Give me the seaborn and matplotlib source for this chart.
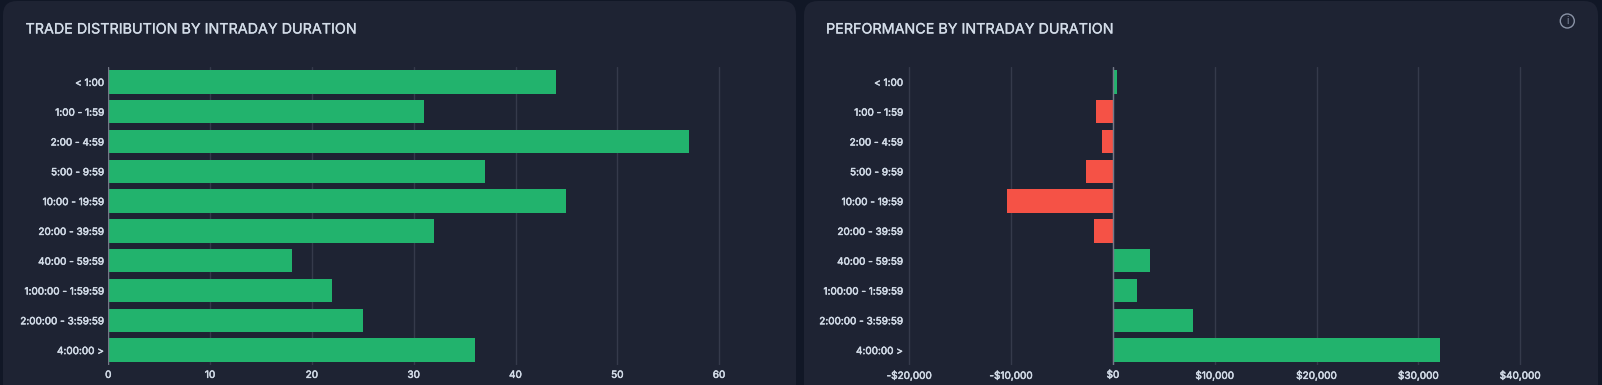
import matplotlib
matplotlib.use("Agg")
import matplotlib.pyplot as plt
import matplotlib.patheffects as pe
from matplotlib.patches import FancyBboxPatch, Circle
from matplotlib.transforms import Affine2D
import seaborn as sns
import pandas as pd

# chart data
durations = ["< 1:00", "1:00 - 1:59", "2:00 - 4:59", "5:00 - 9:59", "10:00 - 19:59",
             "20:00 - 39:59", "40:00 - 59:59", "1:00:00 - 1:59:59", "2:00:00 - 3:59:59", "4:00:00 >"]
trade_counts = [44, 31, 57, 37, 45, 32, 18, 22, 25, 36]
performance = [400, -1700, -1050, -2650, -10450, -1900, 3600, 2400, 7900, 32150]
count_ticks = [0, 10, 20, 30, 40, 50, 60]
perf_ticks = [-20000, -10000, 0, 10000, 20000, 30000, 40000]

W, H = 1602, 385
PAGE = "#111726"
CARD = "#1e2333"
GREEN = "#22b36d"
RED = "#f55246"
GRID = "#353a4b"
AXIS = "#737887"
TEXT = "#d3dce8"

sns.set_theme(style="dark")
plt.rcParams["font.family"] = ["Inter", "DejaVu Sans"]


def money(v):
    return f"-${abs(v):,}" if v < 0 else f"${v:,}"


def add_card(fig, x0, x1):
    # bottom of the card runs off the picture, y given from the top in pixels
    box = FancyBboxPatch((x0, 1), x1 - x0, H + 40, boxstyle="round,pad=0,rounding_size=14",
                         facecolor=CARD, edgecolor="none", linewidth=0, zorder=-5)
    box.set_transform(Affine2D().scale(1, -1).translate(0, H))
    fig.add_artist(box)


def draw_panel(fig, left_px, right_px, values, ticks, xlim, fmt, title, title_x):
    top, bottom = 67, 365
    ax = fig.add_axes([left_px / W, 1 - bottom / H, (right_px - left_px) / W, (bottom - top) / H])
    df = pd.DataFrame({"duration": durations, "value": values})
    df["sign"] = ["pos" if v >= 0 else "neg" for v in values]
    sns.barplot(data=df, y="duration", x="value", hue="sign", palette={"pos": GREEN, "neg": RED},
                dodge=False, legend=False, width=0.78, ax=ax, zorder=3, linewidth=0, saturation=1)
    ax.patch.set_alpha(0)
    ax.set_xlim(*xlim)
    ax.set_ylim(9.5, -0.5)
    ax.set_xlabel("")
    ax.set_ylabel("")
    ax.set_xticks(ticks)
    ax.set_xticklabels([fmt(t) for t in ticks])
    for s in ax.spines.values():
        s.set_visible(False)
    ax.grid(True, axis="x", color=GRID, linewidth=1, zorder=0)
    ax.grid(False, axis="y")
    ax.axvline(0, color=AXIS, linewidth=1, zorder=4)
    ax.tick_params(axis="both", length=0, labelsize=7.2, labelcolor=TEXT)
    ax.tick_params(axis="y", pad=3)
    ax.tick_params(axis="x", pad=3.5)
    # the reference labels are heavier than the regular face
    for lab in ax.get_xticklabels() + ax.get_yticklabels():
        lab.set_path_effects([pe.withStroke(linewidth=0.35, foreground=TEXT)])
    for lab in ax.get_yticklabels():
        lab.set_verticalalignment("center_baseline")
    t = fig.text(title_x / W, 1 - 29.5 / H, title, color=TEXT, fontsize=10.32, va="center", ha="left")
    t.set_path_effects([pe.withStroke(linewidth=0.2, foreground=TEXT)])
    return ax


def main():
    fig = plt.figure(figsize=(W / 100, H / 100), dpi=100, facecolor=PAGE)
    add_card(fig, 3, 796)
    add_card(fig, 804, 1598)

    px = 10.18
    draw_panel(fig, 108.3, 108.3 + 66 * px, trade_counts, count_ticks, (0, 66), str,
               "TRADE DISTRIBUTION BY INTRADAY DURATION", 25.5)
    draw_panel(fig, 909.3 - 2, 1520.3 + 50, performance, perf_ticks,
               (-20000 - 2 / 10.18 * 1000, 40000 + 50 / 10.18 * 1000), money,
               "PERFORMANCE BY INTRADAY DURATION", 826)

    # info icon, top right
    icon = fig.add_axes([(1567.3 - 10) / W, 1 - (21 + 10) / H, 20 / W, 20 / H])
    icon.set_xlim(-10, 10)
    icon.set_ylim(-10, 10)
    icon.axis("off")
    icon.add_patch(Circle((0, 0), 7, fill=False, edgecolor="#8a93a6", linewidth=1))
    icon.text(0, -0.3, "i", color="#8a93a6", fontsize=7, ha="center", va="center")

    fig.savefig("out.png", dpi=100, facecolor=PAGE)
    plt.close(fig)


if __name__ == "__main__":
    main()
